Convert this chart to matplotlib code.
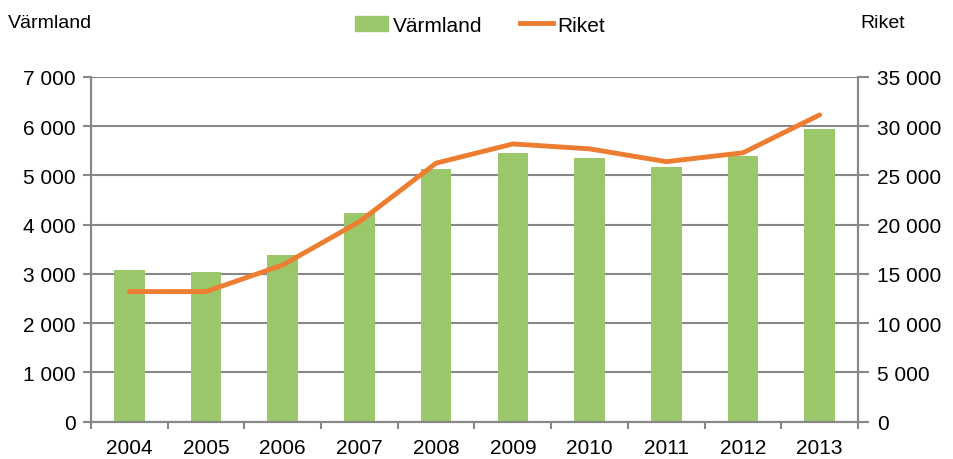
import numpy as np
import matplotlib.pyplot as plt
from matplotlib.ticker import FuncFormatter, FixedLocator
from matplotlib.patches import Patch
from matplotlib.lines import Line2D

plt.rcParams['font.family'] = ['Liberation Sans', 'DejaVu Sans']

# --- data ---
years = ['2004', '2005', '2006', '2007', '2008', '2009', '2010', '2011', '2012', '2013']
varmland = [3080, 3040, 3390, 4230, 5130, 5450, 5360, 5180, 5400, 5940]
riket = [13200, 13200, 15900, 20300, 26250, 28200, 27700, 26400, 27300, 31150]

green = '#9bc76b'
orange = '#ed7d31'
grey = '#878787'

fig = plt.figure(figsize=(9.54, 4.6), dpi=100)
ax = fig.add_axes([91 / 954, 37.5 / 460, 767 / 954, 344.5 / 460])
ax2 = ax.twinx()

x = np.arange(len(years))
ax.bar(x, varmland, width=0.4, color=green, zorder=2)
ax2.plot(x, riket, color=orange, lw=3.5, solid_capstyle='round', zorder=3)

ax.set_xlim(-0.5, len(years) - 0.5)
ax.set_ylim(0, 7000)
ax2.set_ylim(0, 35000)
ax.set_yticks(np.arange(0, 7001, 1000))
ax2.set_yticks(np.arange(0, 35001, 5000))

fmt = FuncFormatter(lambda v, p: f'{int(v):,}'.replace(',', ' '))
ax.yaxis.set_major_formatter(fmt)
ax2.yaxis.set_major_formatter(fmt)

ax.set_xticks(x)
ax.set_xticklabels(years)
ax.xaxis.set_minor_locator(FixedLocator(np.arange(-0.5, len(years), 1)))
ax.tick_params(axis='x', which='major', length=0, pad=12, labelsize=15)
ax.tick_params(axis='x', which='minor', length=5, width=1.5, color=grey)
ax.tick_params(axis='y', length=6, width=1.5, color=grey, labelsize=15, pad=5)
ax2.tick_params(axis='y', length=8, width=1.5, color=grey, labelsize=15, pad=6)

ax.grid(axis='y', color=grey, lw=1.5, zorder=0)
ax.set_axisbelow(True)
for a in (ax, ax2):
    a.spines['top'].set_visible(False)
    for s in ('left', 'right', 'bottom'):
        a.spines[s].set_color(grey)
        a.spines[s].set_linewidth(1.5)

fig.text(8 / 954, 1 - 24 / 460, 'Värmland', fontsize=14, va='center', ha='left')
fig.text(860 / 954, 1 - 24 / 460, 'Riket', fontsize=14, va='center', ha='left')

handles = [Patch(color=green, label='Värmland'),
           Line2D([0], [0], color=orange, lw=3.5, label='Riket')]
fig.legend(handles=handles, loc='center', bbox_to_anchor=(480 / 954, 1 - 26 / 460),
           ncol=2, frameon=False, fontsize=15, handlelength=1.6, handletextpad=0.2,
           columnspacing=1.8)

fig.savefig('out.png', dpi=100)
